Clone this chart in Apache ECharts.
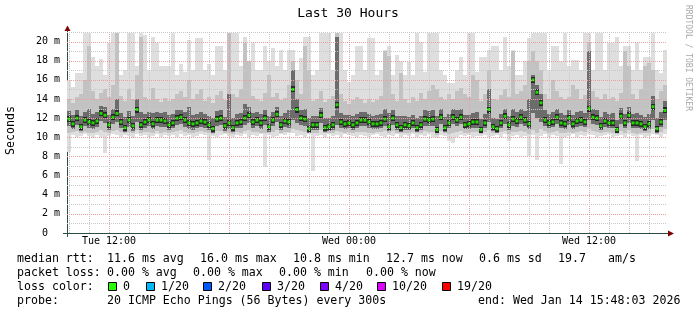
<!DOCTYPE html>
<html><head><meta charset="utf-8">
<script src="https://cdn.jsdelivr.net/npm/echarts@6/dist/echarts.min.js"></script>
<style>html,body{margin:0;padding:0;background:#fff}#c{width:697px;height:315px}</style>
</head><body><div id="c"></div>
<script>
// time axis: hours since Tue 00:00; graph spans Tue 09:54 .. Wed 15:54, one bin = 12 minutes
const START_HOUR = 9.9;
const END_HOUR = 39.9;
const BIN_HOURS = 0.2;
const Y_MAX = 21;

const medianMs = [
 11.9,11.4,12.0,11.1,11.8,11.6,11.5,11.7,12.5,12.3,11.3,12.1,12.5,11.6,11.0,11.8,11.2,12.9,11.3,11.6,11.8,11.4,11.8,11.8,11.7,
 11.3,11.5,12.0,12.1,11.8,11.5,11.4,11.5,11.7,11.6,11.3,10.9,11.9,12.0,11.2,11.5,11.0,11.5,11.6,12.0,12.3,11.6,11.8,11.5,12.0,
 11.1,11.8,12.4,11.3,11.7,11.6,15.0,12.9,12.0,11.9,10.9,11.3,11.3,12.3,11.0,11.1,11.3,13.4,11.6,11.4,11.5,11.3,11.5,11.8,11.8,
 11.6,11.4,11.4,11.5,11.9,11.1,12.0,11.3,11.0,11.3,11.2,11.5,11.0,11.3,11.9,11.8,11.9,10.8,12.1,11.0,11.5,12.1,11.8,12.1,11.3,
 11.4,11.6,11.6,10.8,11.5,12.9,11.1,10.9,11.5,12.2,11.3,11.9,11.7,12.1,11.8,11.4,16.0,14.7,13.6,11.8,11.5,11.6,12.1,11.5,11.4,
 12.0,11.4,11.7,11.8,11.6,13.0,12.1,12.0,11.2,11.7,11.5,11.5,10.8,12.2,11.5,12.3,11.5,11.5,11.4,11.1,11.4,13.2,10.9,11.6,12.8
];
const minMs = [
 8.5,10.2,10.0,10.1,10.3,10.1,9.9,10.2,10.0,8.4,10.1,10.3,10.2,10.0,10.2,10.1,9.9,10.3,10.1,10.2,10.0,10.1,10.3,10.0,10.2,
 10.1,10.2,10.0,10.3,10.1,10.2,10.0,10.1,10.3,10.2,7.6,10.1,10.0,10.2,10.3,10.1,10.0,10.2,10.1,10.3,10.0,10.2,10.1,10.3,6.9,
 10.2,10.0,10.1,10.3,10.2,10.4,10.5,10.1,10.2,10.0,10.3,6.5,10.1,10.2,10.0,10.3,10.1,10.2,10.0,10.3,10.2,10.1,10.0,10.2,10.1,
 10.0,10.2,10.3,10.1,10.0,10.2,10.1,10.3,10.0,10.2,10.1,10.3,10.0,10.2,10.1,10.3,10.0,9.9,10.2,10.1,9.6,9.4,10.0,10.2,10.1,
 10.2,10.0,10.1,10.1,10.2,10.0,10.1,10.2,10.0,10.3,9.6,10.1,10.2,10.0,10.1,8.0,10.2,7.6,10.1,10.3,10.0,10.2,10.1,7.2,10.0,
 10.1,10.3,10.0,10.2,10.1,10.3,10.2,10.0,10.1,10.2,10.3,10.0,10.1,10.2,10.0,10.3,10.1,7.5,10.2,10.0,10.1,10.3,10.2,10.0,10.3
];
const p10Ms = [
 10.5,10.6,10.7,10.4,10.6,10.5,10.5,10.6,10.8,10.6,10.5,10.7,10.8,10.6,10.4,10.6,10.4,10.8,10.5,10.6,10.6,10.5,10.7,10.5,10.6,
 10.5,10.6,10.7,10.8,10.6,10.5,10.4,10.6,10.7,10.6,10.4,10.3,10.7,10.7,10.4,10.5,10.3,10.6,10.5,10.7,10.8,10.6,10.6,10.5,10.5,
 10.4,10.6,10.8,10.5,10.6,10.6,10.9,10.8,10.7,10.6,10.4,10.4,10.5,10.8,10.4,10.5,10.5,10.7,10.6,10.5,10.6,10.5,10.6,10.6,10.6,
 10.5,10.5,10.6,10.6,10.7,10.4,10.7,10.5,10.4,10.5,10.5,10.6,10.4,10.5,10.7,10.6,10.6,10.2,10.7,10.4,10.3,10.5,10.6,10.7,10.5,
 10.5,10.6,10.6,10.3,10.6,10.8,10.4,10.4,10.6,10.7,10.3,10.6,10.6,10.7,10.6,10.3,10.8,10.5,10.9,10.7,10.5,10.6,10.7,10.4,10.5,
 10.6,10.5,10.6,10.7,10.6,10.9,10.7,10.6,10.5,10.6,10.6,10.5,10.3,10.7,10.5,10.8,10.5,10.3,10.5,10.4,10.5,10.9,10.3,10.6,10.9
];
const p25Ms = [
 11.2,10.9,11.3,10.7,11.2,11.0,10.9,11.1,11.7,11.5,10.8,11.4,11.6,11.0,10.6,11.1,10.7,11.6,10.8,11.0,11.2,10.9,11.2,11.1,11.1,
 10.8,11.0,11.3,11.4,11.1,10.9,10.8,11.0,11.1,11.0,10.8,10.5,11.2,11.3,10.7,10.9,10.6,11.0,11.0,11.3,11.5,11.0,11.2,10.9,11.3,
 10.6,11.2,11.6,10.8,11.1,11.0,11.8,11.5,11.3,11.2,10.5,10.8,10.8,11.5,10.6,10.7,10.8,11.3,11.0,10.9,11.0,10.8,11.0,11.2,11.2,
 11.0,10.9,10.9,11.0,11.2,10.7,11.3,10.8,10.6,10.8,10.8,11.0,10.6,10.8,11.2,11.2,11.2,10.4,11.4,10.6,11.0,11.4,11.2,11.4,10.9,
 10.9,11.0,11.0,10.4,11.0,11.6,10.7,10.5,11.0,11.4,10.8,11.2,11.1,11.4,11.2,10.9,12.5,12.0,11.6,11.2,11.0,11.1,11.4,11.0,10.9,
 11.3,10.9,11.1,11.2,11.1,11.8,11.4,11.3,10.8,11.1,11.0,11.0,10.5,11.4,11.0,11.5,11.0,11.0,10.9,10.7,10.9,11.8,10.5,11.1,11.8
];
const p75Ms = [
 12.7,12.3,12.8,12.2,12.6,13.0,12.4,12.6,13.3,13.2,12.3,13.0,14.0,12.5,12.1,12.7,12.2,14.0,12.6,12.4,12.6,12.5,12.6,12.5,12.6,
 12.3,12.4,12.8,12.9,12.6,13.2,12.3,12.4,12.6,12.4,12.2,12.0,12.7,12.9,12.1,14.5,12.0,12.4,12.5,13.5,13.2,12.5,12.6,12.4,12.9,
 12.2,12.6,13.2,12.2,12.5,12.8,17.0,14.0,12.8,13.0,12.0,12.2,12.2,13.1,12.0,12.0,12.2,20.5,12.5,12.3,12.3,12.2,12.4,12.6,12.6,
 12.4,12.2,12.3,12.4,13.0,12.5,12.8,12.2,12.2,12.2,12.1,12.3,12.0,12.2,12.8,12.7,12.9,12.2,13.0,12.1,12.4,13.0,12.8,13.0,12.3,
 12.3,12.5,12.6,11.9,12.4,15.0,12.0,11.9,12.4,13.0,12.2,13.0,12.6,13.0,12.7,14.0,16.5,15.5,14.5,12.8,12.4,12.6,13.0,12.5,12.3,
 12.9,12.3,12.6,12.7,12.5,19.0,13.0,12.9,12.1,12.6,12.4,12.5,11.8,13.1,12.4,13.2,12.4,12.5,12.3,12.1,12.4,14.3,12.0,12.6,13.8
];
const p90Ms = [
 14.0,13.6,14.2,14.5,16.0,19.5,14.8,14.0,14.6,15.0,14.2,15.5,20.9,14.3,13.8,15.0,14.0,16.5,20.5,14.2,13.9,15.2,14.0,13.7,14.1,
 13.8,14.0,14.5,14.8,14.2,16.0,14.0,14.5,15.0,13.8,14.2,13.6,14.4,14.8,13.9,20.9,14.5,14.2,15.0,19.8,18.0,14.3,14.0,13.8,14.6,
 16.5,14.2,14.6,13.9,14.1,15.5,18.0,16.0,14.5,19.5,17.0,13.8,14.0,14.8,13.7,14.0,14.3,20.9,14.5,13.8,13.5,13.9,14.2,14.0,13.6,
 14.0,13.7,13.9,14.3,19.0,18.5,14.5,13.8,16.7,14.0,13.6,14.2,13.8,14.6,14.0,14.8,15.5,15.0,14.2,13.9,14.5,14.0,14.8,15.2,14.5,
 14.2,16.5,16.0,13.8,14.5,17.0,14.0,13.9,14.4,15.0,14.2,19.0,14.5,14.8,15.5,18.0,19.0,18.0,17.0,14.5,14.0,16.0,14.8,14.2,14.0,
 14.2,15.5,15.0,14.0,14.4,20.0,14.8,14.2,14.0,14.5,14.0,14.2,13.8,14.6,19.0,17.5,14.5,14.0,15.0,17.5,17.8,17.0,14.0,14.8,15.5
];
const maxMs = [
 16.0,15.3,16.7,16.7,20.9,20.9,18.4,17.5,18.2,16.5,19.8,20.9,20.9,16.5,17.0,20.9,20.9,17.5,20.9,20.7,17.0,20.5,19.8,17.5,17.4,
 17.4,20.9,16.5,17.7,16.8,20.2,17.0,20.4,20.4,17.0,17.7,16.5,19.5,19.5,17.0,20.9,20.9,20.9,17.5,20.5,18.0,19.8,17.0,17.0,19.5,
 18.0,19.3,17.5,19.1,17.0,19.1,19.1,17.0,18.3,20.5,20.5,16.5,17.0,20.9,20.9,20.9,17.0,20.9,20.9,17.0,15.8,16.5,19.5,19.5,17.0,
 20.4,20.4,16.5,17.0,19.1,19.5,16.5,18.6,18.0,16.5,17.9,16.5,20.9,20.0,16.8,20.9,20.9,20.9,17.0,16.5,15.7,15.7,17.0,18.4,16.5,
 20.9,20.9,16.8,18.4,18.4,19.1,19.5,19.5,17.0,20.5,17.5,19.1,16.5,16.5,18.0,20.4,20.9,20.9,20.9,20.9,17.0,19.5,19.5,18.0,20.9,
 17.4,18.1,18.1,17.0,20.9,20.9,17.0,20.9,20.9,17.0,19.8,19.8,20.5,17.5,19.5,19.5,17.0,19.8,17.0,18.4,18.4,20.9,17.0,16.7,19.1
];

const xTickHours = [12, 24, 36];
const xTickLabels = ['Tue 12:00', 'Wed 00:00', 'Wed 12:00'];
const majorGridHours = [12, 18, 24, 30, 36];

const lossColors = ['#26ff00', '#00b8ff', '#0059ff', '#5e00ff', '#7e00ff', '#dd00ff', '#ff0000'];
const lossLabels = ['0', '1/20', '2/20', '3/20', '4/20', '10/20', '19/20'];
const rttStats = ['median rtt:', '11.6 ms avg', '16.0 ms max', '10.8 ms min', '12.7 ms now', '0.6 ms sd', '19.7', 'am/s'];
const lossStats = ['packet loss:', '0.00 % avg', '0.00 % max', '0.00 % min', '0.00 % now'];
const probeInfo = ['probe:', '20 ICMP Echo Pings (56 Bytes) every 300s', 'end: Wed Jan 14 15:48:03 2026'];

const MONO = '"DejaVu Sans Mono", monospace';

const smokeData = medianMs.map((m, i) => [START_HOUR + i * BIN_HOURS, START_HOUR + (i + 1) * BIN_HOURS,
  minMs[i], p10Ms[i], p25Ms[i], m, p75Ms[i], p90Ms[i], maxMs[i]]);
const medianData = medianMs.map((m, i) => [START_HOUR + (i + 0.5) * BIN_HOURS, m]);

const gridData = [];
for (let h = Math.ceil(START_HOUR); h <= END_HOUR; h++) gridData.push([h, 0, 0, majorGridHours.includes(h) ? 1 : 0]);
for (let v = 1; v <= Y_MAX; v++) gridData.push([START_HOUR, v, 1, v % 2 === 0 ? 1 : 0]);

function smokeItem(params, api) {
  const x0 = Math.round(api.coord([api.value(0), 0])[0]);
  const x1 = Math.round(api.coord([api.value(1), 0])[0]);
  const Y = k => Math.round(api.coord([api.value(0), api.value(k)])[1]);
  const band = (top, bot, color) => ({type: 'rect', shape: {x: x0, y: top, width: x1 - x0, height: Math.max(1, bot - top)}, style: {fill: color}});
  const yMed = Y(5);
  return {type: 'group', children: [
    band(Y(8), Y(2), '#dedede'),
    band(Y(7), Y(3), '#c2c2c2'),
    band(Y(6), Y(4), '#6c6c6c'),
    band(yMed - 3, yMed + 3, '#262626')
  ]};
}

function gridItem(params, api) {
  const cs = params.coordSys;
  const vert = api.value(2) === 0, major = api.value(3) === 1;
  const p = api.coord([api.value(0), api.value(1)]);
  const shape = vert
    ? {x1: Math.round(p[0]) + 0.5, y1: cs.y, x2: Math.round(p[0]) + 0.5, y2: cs.y + cs.height}
    : {x1: cs.x, y1: Math.round(p[1]) + 0.5, x2: cs.x + cs.width, y2: Math.round(p[1]) + 0.5};
  return {type: 'line', shape, style: {stroke: major ? '#e8a0a0' : '#c8c8c8', lineWidth: 1, lineDash: [1, 1]}};
}

function xLabelItem(params, api) {
  const p = api.coord([api.value(0), 0]);
  return {type: 'text', x: p[0], y: p[1] + 8, style: {text: xTickLabels[api.value(2)], fontFamily: MONO, fontSize: 10, fill: '#000', align: 'center', verticalAlign: 'middle'}};
}

const rowY = [259, 273, 287, 301];
const rttX = [17, 107, 200, 293, 386, 479, 558, 608];
const lossX = [17, 107, 193, 279, 366];
const probeX = [17, 107, 478];
const boxX = [108, 146, 203, 262, 320, 377, 442];

const txt = (s, x, y, extra) => Object.assign({type: 'text', x, y, silent: true,
  style: Object.assign({text: s, fontFamily: MONO, fontSize: 11.6, fill: '#000', align: 'left', verticalAlign: 'middle'}, extra || {})});

const graphics = [
  txt('Last 30 Hours', 348, 14, {fontSize: 13, align: 'center'}),
  Object.assign(txt('Seconds', 11, 130.5, {align: 'center'}), {rotation: Math.PI / 2}),
  Object.assign(txt('RRDTOOL / TOBI OETIKER', 688, 58, {align: 'center', fontSize: 8, fill: '#a8a8a8'}), {rotation: -Math.PI / 2}),
  {type: 'line', silent: true, shape: {x1: 63, y1: 233.5, x2: 669, y2: 233.5}, style: {stroke: '#2c4d43', lineWidth: 1}},
  {type: 'line', silent: true, shape: {x1: 67.5, y1: 237, x2: 67.5, y2: 29}, style: {stroke: '#2c4d43', lineWidth: 1}},
  {type: 'polygon', silent: true, shape: {points: [[668, 230.5], [674, 233.5], [668, 236.5]]}, style: {fill: '#7f0000'}},
  {type: 'polygon', silent: true, shape: {points: [[64.5, 31], [67.5, 25.5], [70.5, 31]]}, style: {fill: '#7f0000'}}
];
rttStats.forEach((s, i) => graphics.push(txt(s, rttX[i], rowY[0])));
lossStats.forEach((s, i) => graphics.push(txt(s, lossX[i], rowY[1])));
graphics.push(txt('loss color:', 17, rowY[2]));
lossColors.forEach((c, i) => {
  graphics.push({type: 'rect', silent: true, shape: {x: boxX[i] + 0.5, y: 282.5, width: 8, height: 8}, style: {fill: c, stroke: '#000', lineWidth: 1}});
  graphics.push(txt(lossLabels[i], boxX[i] + 15, rowY[2]));
});
probeInfo.forEach((s, i) => graphics.push(txt(s, probeX[i], rowY[3])));

const chart = echarts.init(document.getElementById('c'), null, {renderer: 'canvas', width: 697, height: 315});
chart.setOption({
  backgroundColor: '#fff',
  animation: false,
  grid: {left: 67, top: 32, width: 600, height: 201, containLabel: false},
  xAxis: {type: 'value', min: START_HOUR, max: END_HOUR,
    axisLine: {show: false}, axisTick: {show: false}, axisLabel: {show: false}, splitLine: {show: false}},
  yAxis: {type: 'value', min: 0, max: Y_MAX, interval: 1,
    axisLine: {show: false}, axisTick: {show: false}, splitLine: {show: false},
    axisLabel: {fontFamily: MONO, fontSize: 10, color: '#000', margin: 7,
      formatter: v => v === 0 ? '0  ' : (v % 2 === 0 ? v + ' m' : '')}},
  series: [
    {type: 'custom', name: 'smoke', data: smokeData, renderItem: smokeItem, silent: true, z: 2},
    {type: 'custom', name: 'grid', data: gridData, renderItem: gridItem, silent: true, z: 3, clip: false},
    {type: 'scatter', name: 'median rtt', data: medianData, symbol: 'rect', symbolSize: [3, 3],
      itemStyle: {color: '#26ff00'}, silent: true, z: 4},
    {type: 'custom', name: 'xlabels', data: xTickHours.map((h, i) => [h, 0, i]), renderItem: xLabelItem, silent: true, clip: false, z: 5}
  ],
  graphic: graphics
});
</script>
</body></html>
